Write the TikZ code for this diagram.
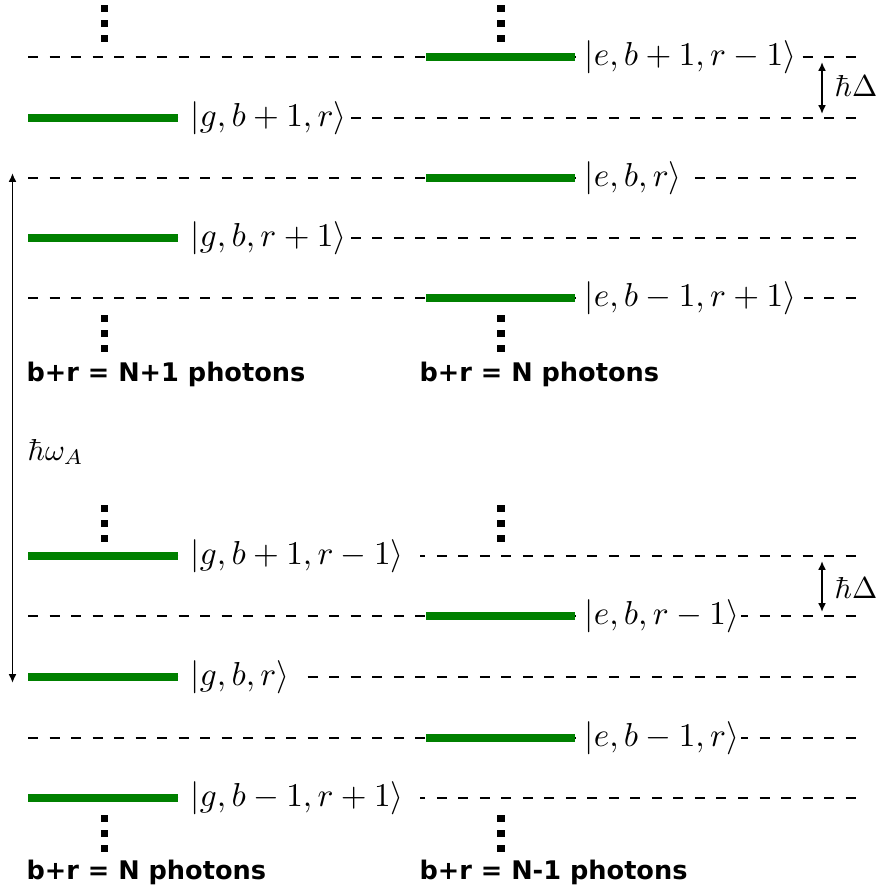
\documentclass[tikz,border=0pt]{standalone}
\usepackage[no-math]{fontspec}
\newfontfamily\grpfont{DejaVu Sans}
\usetikzlibrary{arrows.meta}
\definecolor{lvlgreen}{RGB}{0,128,0}
\newlength\pxu
\setlength{\pxu}{0.33pt}
\begin{document}
\begin{tikzpicture}[x=0.33pt,y=-0.33pt,
  lvlbar/.style={draw=lvlgreen,line width=2.4pt},
  dashlvl/.style={line width=0.6pt,dash pattern=on 3.3pt off 3.8pt},
  statelbl/.style={anchor=west,fill=white,inner sep=0pt,font=\fontsize{10.6}{12}\selectfont},
  grplbl/.style={anchor=base west,inner sep=0pt,font=\grpfont\bfseries\fontsize{8.45}{10}\selectfont},
  gaparrow/.style={{Latex[length=2.9pt,width=2.6pt]}-{Latex[length=2.9pt,width=2.6pt]},line width=0.6pt},
  plainlbl/.style={anchor=base west,inner sep=0pt,font=\fontsize{10.4}{12}\selectfont}]
\useasboundingbox (0,0) rectangle (880,891);

% level rows
\foreach \n/\yy in {A/57,B/118,C/178,D/238,E/298,F/556,G/616,H/677,I/738,J/798}{
  \coordinate (\n0) at (28,\yy);
  \coordinate (\n1) at (858,\yy);
  \coordinate (\n L) at (178,\yy);
  \coordinate (\n R0) at (426,\yy);
  \coordinate (\n R1) at (575,\yy);
  \draw[dashlvl] (\n0) -- (\n1);
}

% state labels (white fill hides the dashes behind them)
\node[statelbl] (labA) at (AR1) {\kern9\pxu$|e,b+1,r-1\rangle$\kern6\pxu};
\node[statelbl] (labB) at (BL) {\kern12\pxu$|g,b+1,r\rangle$\kern4\pxu};
\node[statelbl] (labC) at (CR1) {\kern9\pxu$|e,b,r\rangle$\kern12\pxu};
\node[statelbl] (labD) at (DL) {\kern12\pxu$|g,b,r+1\rangle$\kern4\pxu};
\node[statelbl] (labE) at (ER1) {\kern9\pxu$|e,b-1,r+1\rangle$\kern8\pxu};
\node[statelbl] (labF) at (FL) {\kern12\pxu$|g,b+1,r-1\rangle$\kern16\pxu};
\node[statelbl] (labG) at (GR1) {\kern9\pxu$|e,b,r-1\rangle$\kern2\pxu};
\node[statelbl] (labH) at (HL) {\kern12\pxu$|g,b,r\rangle$\kern12\pxu};
\node[statelbl] (labI) at (IR1) {\kern9\pxu$|e,b-1,r\rangle$\kern2\pxu};
\node[statelbl] (labJ) at (JL) {\kern12\pxu$|g,b-1,r+1\rangle$\kern16\pxu};

% green bars
\foreach \n in {B,D,F,H,J} \draw[lvlbar] (\n0) -- (\n L);
\foreach \n in {A,C,E,G,I} \draw[lvlbar] (\n R0) -- (\n R1);

% vertical ellipsis markers
\foreach \xx in {104.5,501}{
  \foreach \yy in {8.5,23.5,38.5,318.5,333.5,348.5,508.5,523.5,538.5,818.5,833.5,848.5}{
    \fill (\xx-3.8,\yy-3.8) rectangle (\xx+3.8,\yy+3.8);
  }
}

% group labels
\node[grplbl] (g1) at (26,381) {b+r = N+1 photons};
\node[grplbl] (g2) at (419,381) {b+r = N photons};
\node[grplbl] (g3) at (26,879) {b+r = N photons};
\node[grplbl] (g4) at (419,879) {b+r = N-1 photons};

% energy gaps
\coordinate (d1a) at (822,62);
\coordinate (d1b) at (822,114);
\draw[gaparrow] (d1a) -- (d1b);
\node[plainlbl] (hd1) at (834,97) {$\hbar\Delta$};
\coordinate (d2a) at (822,561);
\coordinate (d2b) at (822,612);
\draw[gaparrow] (d2a) -- (d2b);
\node[plainlbl] (hd2) at (834,598) {$\hbar\Delta$};

\coordinate (wa) at (12.5,173);
\coordinate (wb) at (12.5,683);
\draw[gaparrow] (wa) -- (wb);
\node[plainlbl] (hw) at (27,460) {$\hbar\omega_A$};
\end{tikzpicture}
\end{document}
